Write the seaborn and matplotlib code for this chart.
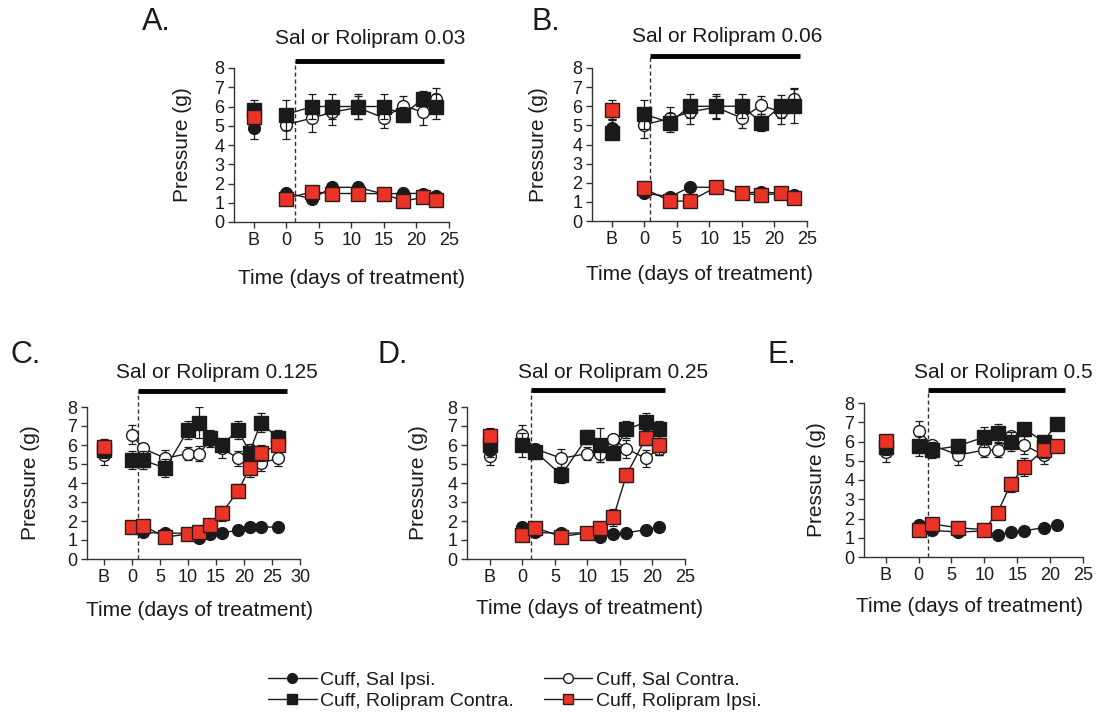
import matplotlib
matplotlib.use('Agg')
import matplotlib.pyplot as plt
import seaborn as sns
from matplotlib.lines import Line2D

sns.set_style('ticks')
plt.rcParams['font.family'] = ['Liberation Sans', 'DejaVu Sans']

INK = '#1a1a1a'
RED = '#ec3327'

# ---------------- data (mean paw pressure, g) ----------------
# order of baseline lists: sal ipsi, sal contra, rol contra, rol ipsi
# A. rolipram 0.03
days_a = [0, 4, 7, 11, 15, 18, 21, 23]
sal_ipsi_a = [1.52, 1.2, 1.8, 1.8, 1.45, 1.5, 1.47, 1.37]
sal_ipsi_err_a = [0.1, 0.08, 0.1, 0.1, 0.08, 0.08, 0.08, 0.08]
sal_contra_a = [5.05, 5.4, 5.7, 5.95, 5.4, 6.05, 5.7, 6.4]
sal_contra_err_a = [0.72, 0.72, 0.65, 0.6, 0.5, 0.48, 0.66, 0.56]
rol_contra_a = [5.58, 6.0, 6.0, 6.0, 6.0, 5.58, 6.4, 6.0]
rol_contra_err_a = [0.78, 0.64, 0.64, 0.64, 0.64, 0.4, 0.38, 0.64]
rol_ipsi_a = [1.22, 1.57, 1.48, 1.48, 1.47, 1.08, 1.28, 1.13]
rol_ipsi_err_a = [0.08, 0.1, 0.08, 0.08, 0.08, 0.08, 0.08, 0.08]
base_a = [4.87, 5.65, 5.84, 5.48]
base_err_a = [0.55, 0.5, 0.5, 0.3]

# B. rolipram 0.06
days_b = [0, 4, 7, 11, 15, 18, 21, 23]
sal_ipsi_b = [1.46, 1.27, 1.77, 1.76, 1.45, 1.53, 1.44, 1.36]
sal_ipsi_err_b = [0.08, 0.08, 0.08, 0.08, 0.08, 0.08, 0.08, 0.08]
sal_contra_b = [5.04, 5.36, 5.7, 5.95, 5.38, 6.05, 5.7, 6.4]
sal_contra_err_b = [0.72, 0.6, 0.65, 0.6, 0.5, 0.47, 0.65, 0.56]
rol_contra_b = [5.58, 5.15, 6.0, 6.0, 6.0, 5.15, 6.0, 6.0]
rol_contra_err_b = [0.77, 0.5, 0.64, 0.64, 0.64, 0.45, 0.6, 0.9]
rol_ipsi_b = [1.7, 1.04, 1.04, 1.76, 1.44, 1.36, 1.44, 1.22]
rol_ipsi_err_b = [0.1, 0.08, 0.08, 0.08, 0.08, 0.08, 0.08, 0.08]
base_b = [4.85, 4.8, 4.62, 5.83]
base_err_b = [0.5, 0.5, 0.35, 0.5]

# C. rolipram 0.125
days_c = [0, 2, 6, 10, 12, 14, 16, 19, 21, 23, 26]
sal_ipsi_c = [1.68, 1.4, 1.36, 1.36, 1.12, 1.31, 1.36, 1.52, 1.68, 1.68, 1.68]
sal_ipsi_err_c = [0.08, 0.08, 0.08, 0.08, 0.08, 0.08, 0.08, 0.08, 0.08, 0.08, 0.08]
sal_contra_c = [6.55, 5.82, 5.3, 5.55, 5.55, 6.25, 5.82, 5.3, 5.75, 5.03, 5.3]
sal_contra_err_c = [0.48, 0.2, 0.45, 0.35, 0.38, 0.15, 0.5, 0.4, 0.3, 0.4, 0.42]
rol_contra_c = [5.2, 5.2, 4.78, 6.78, 7.18, 6.36, 6.0, 6.78, 5.6, 7.18, 6.38]
rol_contra_err_c = [0.48, 0.47, 0.47, 0.49, 0.82, 0.45, 0.3, 0.49, 0.3, 0.5, 0.42]
rol_ipsi_c = [1.68, 1.76, 1.15, 1.32, 1.4, 1.8, 2.4, 3.6, 4.78, 5.57, 6.0]
rol_ipsi_err_c = [0.1, 0.1, 0.1, 0.1, 0.1, 0.12, 0.4, 0.36, 0.47, 0.42, 0.3]
base_c = [5.8, 5.45, 5.72, 5.9]
base_err_c = [0.4, 0.52, 0.4, 0.42]

# D. rolipram 0.25
days_d = [0, 2, 6, 10, 12, 14, 16, 19, 21]
sal_ipsi_d = [1.7, 1.4, 1.35, 1.38, 1.14, 1.32, 1.38, 1.54, 1.7]
sal_ipsi_err_d = [0.08, 0.08, 0.08, 0.08, 0.08, 0.08, 0.08, 0.08, 0.08]
sal_contra_d = [6.55, 5.8, 5.3, 5.55, 5.55, 6.3, 5.8, 5.3, 5.8]
sal_contra_err_d = [0.48, 0.2, 0.47, 0.35, 0.42, 0.15, 0.48, 0.44, 0.3]
rol_contra_d = [6.0, 5.65, 4.42, 6.42, 6.0, 5.6, 6.82, 7.2, 6.82]
rol_contra_err_d = [0.62, 0.4, 0.4, 0.38, 0.92, 0.35, 0.45, 0.5, 0.46]
rol_ipsi_d = [1.27, 1.65, 1.18, 1.38, 1.62, 2.2, 4.42, 6.38, 6.0]
rol_ipsi_err_d = [0.1, 0.12, 0.1, 0.1, 0.12, 0.45, 0.38, 0.4, 0.5]
base_d = [5.75, 5.43, 6.02, 6.47]
base_err_d = [0.4, 0.5, 0.4, 0.45]

# E. rolipram 0.5
days_e = [0, 2, 6, 10, 12, 14, 16, 19, 21]
sal_ipsi_e = [1.65, 1.38, 1.3, 1.35, 1.14, 1.3, 1.35, 1.53, 1.67]
sal_ipsi_err_e = [0.08, 0.08, 0.08, 0.08, 0.08, 0.08, 0.08, 0.08, 0.08]
sal_contra_e = [6.57, 5.82, 5.3, 5.55, 5.55, 6.3, 5.82, 5.3, 5.8]
sal_contra_err_e = [0.48, 0.15, 0.52, 0.35, 0.38, 0.15, 0.45, 0.45, 0.2]
rol_contra_e = [5.77, 5.56, 5.77, 6.23, 6.44, 6.0, 6.66, 6.0, 6.92]
rol_contra_err_e = [0.5, 0.43, 0.38, 0.5, 0.45, 0.48, 0.3, 0.3, 0.32]
rol_ipsi_e = [1.38, 1.72, 1.52, 1.42, 2.3, 3.78, 4.67, 5.54, 5.77]
rol_ipsi_err_e = [0.1, 0.18, 0.1, 0.1, 0.3, 0.38, 0.45, 0.4, 0.2]
base_e = [5.75, 5.43, 5.7, 6.05]
base_err_e = [0.4, 0.5, 0.4, 0.3]

doses = ['0.03', '0.06', '0.125', '0.25', '0.5']
letters = ['A.', 'B.', 'C.', 'D.', 'E.']
series_labels = ['Cuff, Sal Ipsi.', 'Cuff, Sal Contra.', 'Cuff, Rolipram Contra.', 'Cuff, Rolipram Ipsi.']

# marker styles per series (sal ipsi, sal contra, rol contra, rol ipsi)
styles = [
    dict(marker='o', ms=8.5, markerfacecolor=INK, markeredgecolor=INK, z=4),
    dict(marker='o', ms=8.5, markerfacecolor='white', markeredgecolor=INK, z=2),
    dict(marker='s', ms=9.5, markerfacecolor=INK, markeredgecolor=INK, z=3),
    dict(marker='s', ms=9.5, markerfacecolor=RED, markeredgecolor='#2a1a1a', z=5),
]

# ---------------- layout (pixels) ----------------
W, H = 1099, 719
# left, right, top, bottom of each axes
rects = [(234, 449, 68, 222), (592, 807, 68, 221), (87, 300, 407, 559),
         (467, 685, 407, 559), (864, 1083, 403, 557)]
xlims = [(-8, 25), (-8, 25), (-8, 30), (-8.5, 25), (-8.3, 25)]
bars = [(1.4, 24.2, 8.36), (0.9, 23.9, 8.65), (1.1, 27.7, 8.84), (1.4, 22.0, 8.9), (1.4, 22.3, 8.68)]
title_xy = [(370, 39), (727, 37), (217, 373), (613, 372), (1003, 372)]
letter_xy = [(142, 22), (532, 22), (10, 355), (377, 355), (767, 355)]
xlabel_xy = [(351, 278), (700, 275), (199, 610), (590, 608), (970, 607)]
ylabel_x = [183, 538, 30, 418, 817]

panels = [
    (days_a, [sal_ipsi_a, sal_contra_a, rol_contra_a, rol_ipsi_a],
     [sal_ipsi_err_a, sal_contra_err_a, rol_contra_err_a, rol_ipsi_err_a], base_a, base_err_a),
    (days_b, [sal_ipsi_b, sal_contra_b, rol_contra_b, rol_ipsi_b],
     [sal_ipsi_err_b, sal_contra_err_b, rol_contra_err_b, rol_ipsi_err_b], base_b, base_err_b),
    (days_c, [sal_ipsi_c, sal_contra_c, rol_contra_c, rol_ipsi_c],
     [sal_ipsi_err_c, sal_contra_err_c, rol_contra_err_c, rol_ipsi_err_c], base_c, base_err_c),
    (days_d, [sal_ipsi_d, sal_contra_d, rol_contra_d, rol_ipsi_d],
     [sal_ipsi_err_d, sal_contra_err_d, rol_contra_err_d, rol_ipsi_err_d], base_d, base_err_d),
    (days_e, [sal_ipsi_e, sal_contra_e, rol_contra_e, rol_ipsi_e],
     [sal_ipsi_err_e, sal_contra_err_e, rol_contra_err_e, rol_ipsi_err_e], base_e, base_err_e),
]

BASE_X = -5

fig = plt.figure(figsize=(W / 100, H / 100), dpi=100)

for i, (days, vals, errs, base, base_err) in enumerate(panels):
    l, r, t, b = rects[i]
    ax = fig.add_axes([l / W, 1 - b / H, (r - l) / W, (b - t) / H])

    for k in range(4):
        st = styles[k]
        z = st['z']
        ax.errorbar(days, vals[k], yerr=errs[k], fmt='none', ecolor=INK,
                    elinewidth=0.9, capsize=2.8, capthick=0.9, zorder=z)
        sns.lineplot(x=days, y=vals[k], ax=ax, color=INK, linewidth=1,
                     marker=st['marker'], markersize=st['ms'],
                     markerfacecolor=st['markerfacecolor'],
                     markeredgecolor=st['markeredgecolor'],
                     markeredgewidth=1, zorder=z + 0.5)
        # baseline point (not joined)
        ax.errorbar([BASE_X], [base[k]], yerr=[base_err[k]], fmt='none', ecolor=INK,
                    elinewidth=0.9, capsize=2.8, capthick=0.9, zorder=z)
        sns.lineplot(x=[BASE_X], y=[base[k]], ax=ax, color=INK, linewidth=0,
                     marker=st['marker'], markersize=st['ms'],
                     markerfacecolor=st['markerfacecolor'],
                     markeredgecolor=st['markeredgecolor'],
                     markeredgewidth=1, zorder=z + 0.5)

    x0, x1 = xlims[i]
    ax.set_xlim(x0, x1)
    ax.set_ylim(0, 8)
    xt = [BASE_X] + list(range(0, int(x1) + 1, 5))
    ax.set_xticks(xt)
    ax.set_xticklabels(['B'] + [str(v) for v in xt[1:]])
    ax.set_yticks(range(0, 9))

    # treatment bar + start line
    bx0, bx1, by = bars[i]
    ax.plot([bx0, bx1], [by, by], color='black', lw=3.5, solid_capstyle='butt', clip_on=False)
    ax.plot([bx0, bx0], [0, by], color='#333333', lw=1, ls=(0, (3, 2)), clip_on=False)

    sns.despine(ax=ax)
    for s in ['left', 'bottom']:
        ax.spines[s].set_color('#333333')
        ax.spines[s].set_linewidth(1)
    ax.tick_params(labelsize=13, length=4, width=1, color='#333333', labelcolor=INK, pad=3)

    ax.set_xlabel('Time (days of treatment)', fontsize=15, color=INK)
    ax.xaxis.label.set_va('center')
    cx, cy = xlabel_xy[i]
    ax.xaxis.set_label_coords((cx - l) / (r - l), -(cy - b) / (b - t))
    ax.set_ylabel('Pressure (g)', fontsize=15, color=INK)
    ax.yaxis.label.set_va('center')
    ax.yaxis.set_label_coords(-(l - ylabel_x[i]) / (r - l), 0.5)

    tx, ty = title_xy[i]
    fig.text(tx / W, 1 - ty / H, 'Sal or Rolipram ' + doses[i], ha='center', va='center',
             fontsize=15, color=INK)
    lx, ly = letter_xy[i]
    fig.text(lx / W, 1 - ly / H, letters[i], ha='left', va='center', fontsize=22, color=INK)

# legend
handles = []
for k in range(4):
    st = styles[k]
    handles.append(Line2D([0], [0], color=INK, lw=1, marker=st['marker'], markersize=7,
                          markerfacecolor=st['markerfacecolor'],
                          markeredgecolor=st['markeredgecolor'], markeredgewidth=1))
order = [0, 2, 1, 3]
fig.legend([handles[k] for k in order], [series_labels[k] for k in order],
           loc='upper left', bbox_to_anchor=(268 / W, 1 - 671 / H), ncol=2, frameon=False,
           fontsize=14, handlelength=2.5, handletextpad=0.2, columnspacing=1.5,
           labelspacing=0.2, borderpad=0, borderaxespad=0, labelcolor=INK)

fig.savefig('out.png', dpi=100)
